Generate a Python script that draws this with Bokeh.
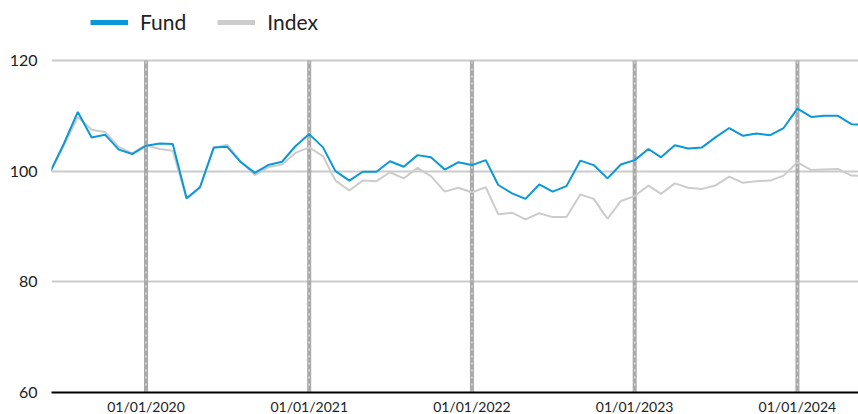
import pandas as pd
from bokeh.plotting import figure
from bokeh.models import (Range1d, FixedTicker, DatetimeTickFormatter, Legend, LegendItem,
                          ColumnDataSource)
from bokeh.embed import file_html
from bokeh.resources import INLINE

# ---- data ----
START_MONTH = "2019-06-01"
fund = [100.0, 105.0, 110.7, 106.1, 106.6, 103.9, 103.1, 104.6, 105.0, 104.9,
        95.1, 97.1, 104.3, 104.4, 101.6, 99.7, 101.1, 101.7, 104.5, 106.7,
        104.3, 100.0, 98.3, 99.9, 99.9, 101.8, 100.8, 102.9, 102.5, 100.3,
        101.6, 101.1, 102.0, 97.5, 96.0, 95.0, 97.6, 96.3, 97.3, 101.9,
        101.1, 98.7, 101.2, 102.0, 104.0, 102.5, 104.7, 104.1, 104.3, 106.1,
        107.8, 106.4, 106.8, 106.5, 107.8, 111.3, 109.8, 110.0, 110.0, 108.5,
        108.4]
index = [100.0, 104.7, 109.8, 107.5, 107.1, 104.4, 103.2, 104.7, 104.0, 103.7,
         95.0, 97.0, 104.2, 104.8, 101.7, 99.3, 100.7, 101.2, 103.3, 104.3,
         102.7, 98.3, 96.5, 98.3, 98.2, 99.8, 98.7, 100.6, 99.1, 96.3,
         97.0, 96.2, 97.1, 92.2, 92.5, 91.3, 92.4, 91.7, 91.7, 95.8,
         95.0, 91.4, 94.6, 95.5, 97.4, 95.9, 97.8, 97.0, 96.8, 97.4,
         99.0, 97.9, 98.2, 98.3, 99.2, 101.6, 100.2, 100.3, 100.4, 99.2,
         99.1]
year_ticks = ["2020-01-01", "2021-01-01", "2022-01-01", "2023-01-01", "2024-01-01"]
y_ticks = [60, 80, 100, 120]
series_names = ["Fund", "Index"]
X_START = "2019-06-03"
X_END = "2024-05-17"

dates = pd.date_range(START_MONTH, periods=len(fund), freq="MS")
src = ColumnDataSource(dict(date=dates, fund=fund, index=index))
yt = pd.to_datetime(year_ticks)
yt_ms = [int(t.value // 10**6) for t in yt]

FUND_C = "#0b98d9"
INDEX_C = "#cccccc"
FONT = "Lato"

p = figure(frame_width=807, frame_height=384, x_axis_type="datetime",
           output_backend="svg", toolbar_location=None,
           x_range=Range1d(pd.Timestamp(X_START), pd.Timestamp(X_END)),
           y_range=Range1d(60, 129.4),
           min_border_left=51, min_border_right=0, min_border_top=8, min_border_bottom=0)
p.outline_line_color = None
p.background_fill_color = "white"
p.border_fill_color = "white"

# grid
p.xgrid.visible = False
p.ygrid.ticker = FixedTicker(ticks=y_ticks)
p.ygrid.grid_line_color = "#cbcbcb"
p.ygrid.grid_line_width = 2

# vertical year markers
p.segment(x0=yt, x1=yt, y0=min(y_ticks), y1=max(y_ticks), line_color="#a9a9a9", line_width=4)
p.segment(x0=yt, x1=yt, y0=min(y_ticks), y1=max(y_ticks), line_color="white",
          line_width=1.5, line_alpha=0.6, line_dash="2 5")

# series
p.line("date", "index", source=src, line_color=INDEX_C, line_width=2)
p.line("date", "fund", source=src, line_color=FUND_C, line_width=2)

# legend proxies (thicker glyphs, no visible data)
nan = float("nan")
lf = p.line(x=[dates[0], dates[1]], y=[nan, nan], line_color=FUND_C, line_width=5)
li = p.line(x=[dates[0], dates[1]], y=[nan, nan], line_color=INDEX_C, line_width=5)
legend = Legend(items=[LegendItem(label=series_names[0], renderers=[lf]),
                       LegendItem(label=series_names[1], renderers=[li])],
                orientation="horizontal", location=(39, 358),
                glyph_width=38, glyph_height=20, label_standoff=12, spacing=31,
                padding=0, margin=0, border_line_color=None, background_fill_alpha=0,
                label_text_font=FONT, label_text_font_size="21px", label_text_color="#222222")
p.add_layout(legend)

# axes
p.xaxis.ticker = FixedTicker(ticks=yt_ms)
fmt = "%d/%m/%Y"
p.xaxis.formatter = DatetimeTickFormatter(years=fmt, months=fmt, days=fmt, hours=fmt,
                                          minutes=fmt, seconds=fmt, milliseconds=fmt,
                                          microseconds=fmt, minsec=fmt, hourmin=fmt)
p.xaxis.axis_line_color = "black"
p.xaxis.axis_line_width = 2
p.xaxis.major_tick_line_color = None
p.xaxis.minor_tick_line_color = None
p.xaxis.major_tick_out = 0
p.xaxis.major_tick_in = 0
p.xaxis.minor_tick_out = 0
p.xaxis.major_label_standoff = 5
p.xaxis.major_label_text_font = FONT
p.xaxis.major_label_text_font_size = "14px"
p.xaxis.major_label_text_color = "#222222"

p.yaxis.ticker = FixedTicker(ticks=y_ticks)
p.yaxis.axis_line_color = None
p.yaxis.major_tick_line_color = None
p.yaxis.minor_tick_line_color = None
p.yaxis.major_tick_out = 0
p.yaxis.major_tick_in = 0
p.yaxis.minor_tick_out = 0
p.yaxis.major_label_standoff = 14
p.yaxis.major_label_text_font = FONT
p.yaxis.major_label_text_font_size = "16px"
p.yaxis.major_label_text_color = "#222222"

open("out.html", "w").write(file_html(p, INLINE))
